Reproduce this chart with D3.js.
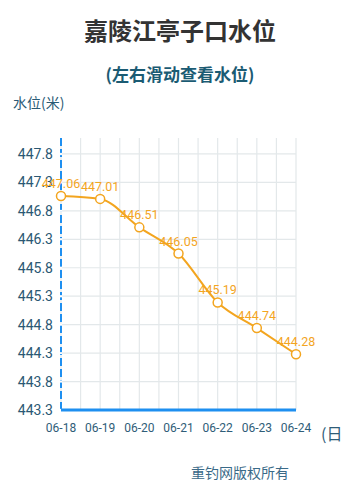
<html>
<head>
<meta charset="utf-8">
<title></title>
<style>
body { margin: 0; background: #fff; }
text { font-family: Roboto, "Noto Sans CJK SC", sans-serif; }
</style>
</head>
<body>
<script src="https://d3js.org/d3.v7.min.js" charset="utf-8"></script>
<script>
// 日期和水位
var dates = ["06-18", "06-19", "06-20", "06-21", "06-22", "06-23", "06-24"];
var levels = [447.06, 447.01, 446.51, 446.05, 445.19, 444.74, 444.28];
var yTicks = [443.3, 443.8, 444.3, 444.8, 445.3, 445.8, 446.3, 446.8, 447.3, 447.8];

var W = 363, H = 492;
// 不能用 top 作变量名 (window.top)
var pLeft = 61, pRight = 296, pTop = 138, pBottom = 410;

var svg = d3.select("body").append("svg")
    .attr("width", W)
    .attr("height", H);

var x = d3.scalePoint().domain(dates).range([pLeft, pRight]);
var y = d3.scaleLinear().domain([443.3, 448.08]).range([pBottom, pTop]);

// 标题
svg.append("text")
    .attr("x", 180).attr("y", 40)
    .attr("text-anchor", "middle")
    .style("font-family", "'Noto Sans CJK SC'")
    .style("font-size", "24px").style("font-weight", "bold")
    .attr("fill", "#333")
    .text("嘉陵江亭子口水位");

svg.append("text")
    .attr("x", 180).attr("y", 81)
    .attr("text-anchor", "middle")
    .style("font-family", "'Noto Sans CJK SC'")
    .style("font-size", "17px").style("font-weight", "bold")
    .attr("fill", "#1b5b73")
    .text("(左右滑动查看水位)");

svg.append("text")
    .attr("x", 13).attr("y", 108)
    .style("font-family", "'Noto Sans CJK SC'")
    .style("font-size", "14px")
    .attr("fill", "#2a5a75")
    .text("水位(米)");

// 网格 竖线每半天一条
var step = x.step();
var vlines = d3.range(0, dates.length * 2 - 1).map(function(i){ return pLeft + i * step / 2; });
svg.selectAll(".vg").data(vlines).enter().append("line")
    .attr("x1", function(d){ return d; }).attr("x2", function(d){ return d; })
    .attr("y1", pTop).attr("y2", pBottom)
    .attr("stroke", "#e3e8ea").attr("stroke-width", 1.2);

svg.selectAll(".hg").data(yTicks.slice(1)).enter().append("line")
    .attr("x1", pLeft).attr("x2", pRight)
    .attr("y1", function(d){ return y(d); }).attr("y2", function(d){ return y(d); })
    .attr("stroke", "#e3e8ea").attr("stroke-width", 1.2);

// y轴
svg.append("line")
    .attr("x1", pLeft).attr("x2", pLeft).attr("y1", pTop).attr("y2", pBottom)
    .attr("stroke", "#1e8ff0").attr("stroke-width", 2)
    .attr("stroke-dasharray", "8,3");

svg.selectAll(".yl").data(yTicks).enter().append("text")
    .attr("x", 53).attr("y", function(d){ return y(d) + 5; })
    .attr("text-anchor", "end")
    .style("font-size", "14px")
    .attr("fill", "#2a5873")
    .text(function(d){ return d.toFixed(1); });

svg.selectAll(".yt").data(yTicks).enter().append("circle")
    .attr("cx", pLeft).attr("cy", function(d){ return y(d); })
    .attr("r", 1.2).attr("fill", "#fff");

// x轴
svg.append("line")
    .attr("x1", pLeft).attr("x2", pRight).attr("y1", pBottom).attr("y2", pBottom)
    .attr("stroke", "#1e8ff0").attr("stroke-width", 3);

svg.selectAll(".xl").data(dates).enter().append("text")
    .attr("x", function(d){ return x(d); }).attr("y", 432)
    .attr("text-anchor", "middle")
    .style("font-size", "12px")
    .attr("fill", "#2f5d78")
    .text(function(d){ return d; });

svg.append("text")
    .attr("x", 321).attr("y", 440)
    .style("font-family", "'Noto Sans CJK SC'")
    .style("font-size", "16px")
    .attr("fill", "#2f5d78")
    .text("(日");

// 折线
var line = d3.line()
    .x(function(d, i){ return x(dates[i]); })
    .y(function(d){ return y(d); })
    .curve(d3.curveMonotoneX);

svg.append("path")
    .datum(levels)
    .attr("d", line)
    .attr("fill", "none")
    .attr("stroke", "#f3a51f")
    .attr("stroke-width", 2);

svg.selectAll(".pt").data(levels).enter().append("circle")
    .attr("cx", function(d, i){ return x(dates[i]); })
    .attr("cy", function(d){ return y(d); })
    .attr("r", 4.5)
    .attr("fill", "#fff")
    .attr("stroke", "#f3a51f")
    .attr("stroke-width", 1.5);

svg.selectAll(".vl").data(levels).enter().append("text")
    .attr("x", function(d, i){ return x(dates[i]); })
    .attr("y", function(d){ return y(d) - 8; })
    .attr("text-anchor", "middle")
    .style("font-size", "12.5px")
    .attr("fill", "#f3a51f")
    .text(function(d){ return d.toFixed(2); });

// 版权
svg.append("text")
    .attr("x", 240).attr("y", 478)
    .attr("text-anchor", "middle")
    .style("font-family", "'Noto Sans CJK SC'")
    .style("font-size", "14px")
    .attr("fill", "#3a6a88")
    .text("重钓网版权所有");
</script>
</body>
</html>
